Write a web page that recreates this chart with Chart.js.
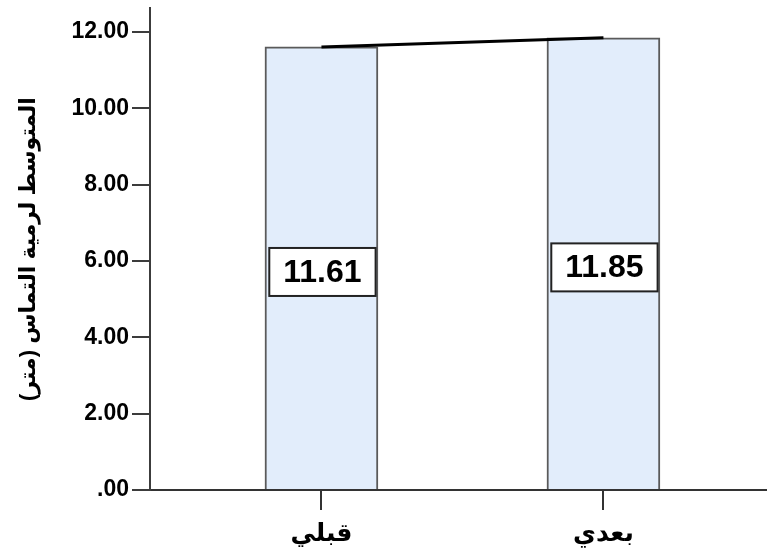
<!DOCTYPE html>
<html>
<head>
<meta charset="utf-8">
<script src="https://cdn.jsdelivr.net/npm/chart.js@4"></script>
<style>
  body { margin: 0; background: #fff; }
  #wrap { width: 767px; height: 553px; }
</style>
</head>
<body>
<div id="wrap"><canvas id="myChart"></canvas></div>
<script>
(() => {
  'use strict'

  const categories = ['قبلي', 'بعدي']
  const means = [11.61, 11.85]
  const yTicks = [0, 2, 4, 6, 8, 10, 12]
  const yTitle = 'المتوسط لرمية التماس (متر)'

  const FAMILY = "'Liberation Sans', 'DejaVu Sans', Arial, sans-serif"
  Chart.defaults.font.family = FAMILY
  Chart.defaults.color = '#000'

  // categories sit at 1, 2 on a numeric x scale
  const points = categories.map((c, i) => ({ x: i + 1, y: means[i] }))

  const boxLabels = {
    id: 'boxLabels',
    afterDatasetsDraw(chart) {
      const meta = chart.getDatasetMeta(1)
      const ctx = chart.ctx
      ctx.save()
      ctx.font = 'bold 32px ' + FAMILY
      meta.data.forEach((bar, i) => {
        const txt = means[i].toFixed(2)
        const w = ctx.measureText(txt).width + 28
        const h = 48
        const cx = bar.x + 1
        const cy = (bar.y + bar.base) / 2 + 4
        ctx.fillStyle = '#fff'
        ctx.fillRect(cx - w / 2, cy - h / 2, w, h)
        ctx.strokeStyle = '#222'
        ctx.lineWidth = 2
        ctx.strokeRect(cx - w / 2, cy - h / 2, w, h)
        ctx.fillStyle = '#000'
        ctx.textAlign = 'center'
        ctx.textBaseline = 'middle'
        ctx.fillText(txt, cx, cy + 1)
      })
      ctx.restore()
    }
  }

  const ctx = document.getElementById('myChart')
  new Chart(ctx, {
    type: 'bar',
    data: {
      datasets: [{
        type: 'line',
        data: points,
        borderColor: '#000',
        borderWidth: 3,
        pointRadius: 0,
        fill: false,
        order: 0
      }, {
        type: 'bar',
        data: points,
        backgroundColor: '#e2edfb',
        borderColor: '#5a5a5a',
        borderWidth: 2,
        barThickness: 113,
        order: 1
      }]
    },
    options: {
      responsive: true,
      maintainAspectRatio: false,
      animation: false,
      layout: { padding: { top: 8, left: 0, right: 0, bottom: 0 } },
      plugins: {
        legend: { display: false },
        tooltip: { enabled: false }
      },
      scales: {
        x: {
          type: 'linear',
          min: 0.392,
          max: 2.58,
          offset: false,
          afterBuildTicks: s => { s.ticks = categories.map((c, i) => ({ value: i + 1 })) },
          afterFit: s => { s.height = 63; s.paddingLeft = 0; s.paddingRight = 0 },
          ticks: {
            callback: v => categories[v - 1],
            font: { size: 25, weight: 'bold' },
            padding: 9,
            maxRotation: 0
          },
          grid: { offset: false, drawOnChartArea: false, drawTicks: true, tickLength: 20, color: '#333', lineWidth: 2 },
          border: { color: '#333', width: 2 }
        },
        y: {
          min: 0,
          max: 12.63,
          afterBuildTicks: s => { s.ticks = yTicks.map(v => ({ value: v })) },
          afterFit: s => { s.width = 150; s.paddingTop = 0; s.paddingBottom = 0 },
          ticks: {
            callback: v => v === 0 ? '.00' : v.toFixed(2),
            font: { size: 23, weight: 'bold' },
            padding: 3
          },
          grid: { drawOnChartArea: false, drawTicks: true, tickLength: 18, color: '#3c3c3c', lineWidth: 2 },
          border: { color: '#3c3c3c', width: 2 },
          title: {
            display: true,
            text: yTitle,
            font: { size: 22, weight: 'bold' },
            padding: { top: 16, bottom: 0 }
          }
        }
      }
    },
    plugins: [boxLabels]
  })
})()
</script>
</body>
</html>
